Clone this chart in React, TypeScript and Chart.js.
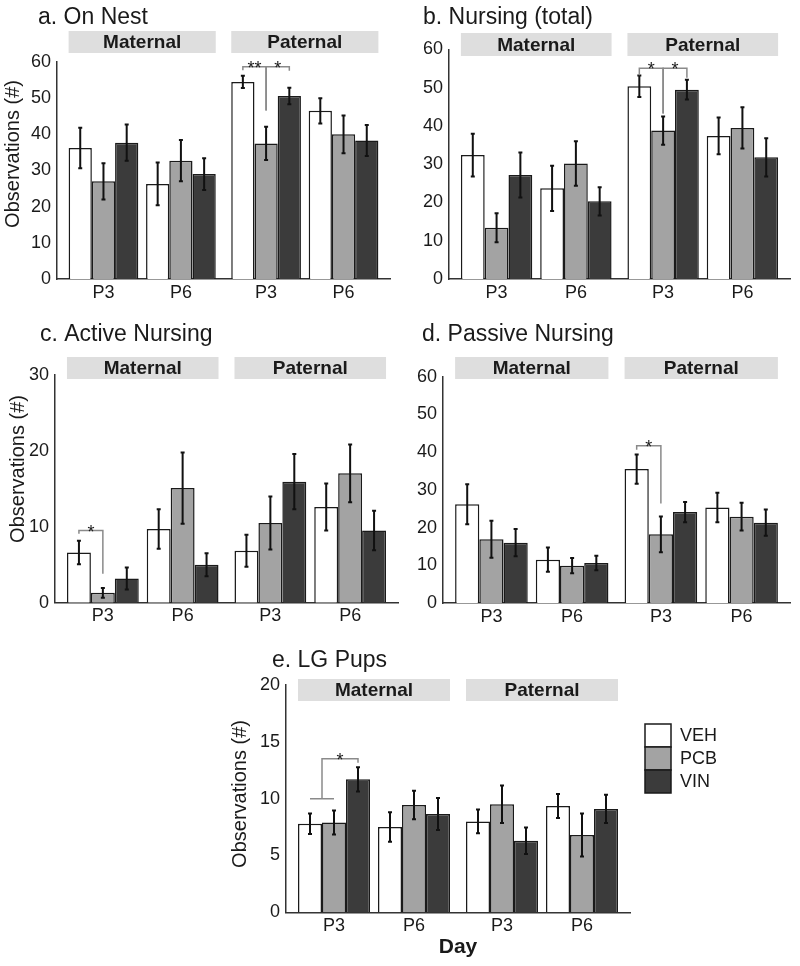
import React, { useEffect, useRef } from "react";
import { Chart, registerables } from "chart.js";

Chart.register(...registerables);

const FONT = "'Liberation Sans', Arial, Helvetica, sans-serif";
const INK = "#1a1a1a";

const SERIES = ["VEH", "PCB", "VIN"];
const SERIES_COLORS = ["#ffffff", "#a3a3a3", "#3b3b3b"];
const FACETS = ["Maternal", "Paternal"];
const DAY_LABELS = ["P3", "P6", "P3", "P6"];
const X_POS = [1, 2, 3.1, 4.1];

// a. On Nest
const nestVEH = [36.2, 26.3, 54.5, 46.5];
const nestPCB = [27.0, 32.7, 37.5, 40.0];
const nestVIN = [37.7, 29.0, 50.6, 38.3];
const nestVEHErr = [5.6, 5.9, 1.7, 3.5];
const nestPCBErr = [5.0, 5.7, 4.6, 5.2];
const nestVINErr = [5.0, 4.4, 2.3, 4.3];

// b. Nursing (total)
const nursVEH = [32.4, 23.7, 50.4, 37.4];
const nursPCB = [13.4, 30.2, 38.8, 39.5];
const nursVIN = [27.2, 20.3, 49.5, 31.8];
const nursVEHErr = [5.6, 5.9, 2.8, 4.8];
const nursPCBErr = [3.8, 5.8, 3.7, 5.4];
const nursVINErr = [5.9, 3.7, 2.6, 5.0];

// c. Active Nursing
const actVEH = [6.6, 9.7, 6.85, 12.6];
const actPCB = [1.3, 15.1, 10.5, 17.05];
const actVIN = [3.2, 5.0, 15.95, 9.5];
const actVEHErr = [1.55, 2.6, 2.1, 3.1];
const actPCBErr = [0.65, 4.7, 3.5, 3.8];
const actVINErr = [1.45, 1.5, 3.65, 2.6];

// d. Passive Nursing
const pasVEH = [26.2, 11.5, 35.5, 25.3];
const pasPCB = [16.9, 9.9, 18.2, 22.9];
const pasVIN = [16.0, 10.6, 24.1, 21.3];
const pasVEHErr = [5.3, 3.2, 3.85, 3.9];
const pasPCBErr = [4.9, 2.0, 4.75, 3.7];
const pasVINErr = [3.6, 1.9, 2.7, 3.5];

// e. LG Pups
const lgVEH = [7.8, 7.5, 8.0, 9.35];
const lgPCB = [7.9, 9.44, 9.5, 6.8];
const lgVIN = [11.7, 8.65, 6.3, 9.1];
const lgVEHErr = [0.9, 1.3, 1.05, 1.05];
const lgPCBErr = [1.05, 1.26, 1.65, 1.9];
const lgVINErr = [1.07, 1.4, 1.17, 1.25];

type Bracket = {
  group: number;
  from: number[];
  to: number;
  y: number;
  fromEnd: number;
  toEnd: number;
  label: string;
};

const nestBrackets: Bracket[] = [
  { group: 2, from: [0], to: 1, y: 58.7, fromEnd: 57.7, toEnd: 46.6, label: "**" },
  { group: 2, from: [1], to: 2, y: 58.7, fromEnd: 46.6, toEnd: 57.6, label: "*" },
];
const nursBrackets: Bracket[] = [
  { group: 2, from: [0], to: 1, y: 55.1, fromEnd: 53.3, toEnd: 43.3, label: "*" },
  { group: 2, from: [1], to: 2, y: 55.1, fromEnd: 43.3, toEnd: 52.6, label: "*" },
];
const actBrackets: Bracket[] = [
  { group: 0, from: [0], to: 1, y: 9.5, fromEnd: 9.1, toEnd: 3.8, label: "*" },
];
const pasBrackets: Bracket[] = [
  { group: 2, from: [0], to: 1, y: 41.7, fromEnd: 40.6, toEnd: 26.4, label: "*" },
];
const lgBrackets: Bracket[] = [
  { group: 0, from: [0, 1], to: 2, y: 13.5, fromEnd: 10.0, toEnd: 13.15, label: "*" },
];

type Panel = {
  key: string;
  left: number;
  top: number;
  w: number;
  h: number;
  area: { left: number; top: number; right: number; bottom: number };
  yMax: number;
  step: number;
  title: string;
  titleX: number;
  titleBase: number;
  yTitle?: { x: number; y: number };
  stripTop: number;
  stripH: number;
  values: number[][];
  errors: number[][];
  brackets: Bracket[];
  legend?: { x: number; y: number };
  xTitle?: { y: number };
};

const PANELS: Panel[] = [
  {
    key: "a", left: 0, top: 0, w: 400, h: 320,
    area: { left: 57, top: 62, right: 390, bottom: 279 },
    yMax: 60, step: 10, title: "a. On Nest", titleX: 38, titleBase: 24,
    yTitle: { x: 13, y: 154 }, stripTop: 31, stripH: 22,
    values: [nestVEH, nestPCB, nestVIN], errors: [nestVEHErr, nestPCBErr, nestVINErr],
    brackets: nestBrackets,
  },
  {
    key: "b", left: 400, top: 0, w: 400, h: 320,
    area: { left: 49, top: 49.5, right: 390, bottom: 279 },
    yMax: 60, step: 10, title: "b. Nursing (total)", titleX: 23, titleBase: 24,
    stripTop: 33, stripH: 23,
    values: [nursVEH, nursPCB, nursVIN], errors: [nursVEHErr, nursPCBErr, nursVINErr],
    brackets: nursBrackets,
  },
  {
    key: "c", left: 0, top: 320, w: 400, h: 320,
    area: { left: 55, top: 55, right: 398, bottom: 282.7 },
    yMax: 30, step: 10, title: "c. Active Nursing", titleX: 40, titleBase: 21,
    yTitle: { x: 18, y: 149 }, stripTop: 37, stripH: 22,
    values: [actVEH, actPCB, actVIN], errors: [actVEHErr, actPCBErr, actVINErr],
    brackets: actBrackets,
  },
  {
    key: "d", left: 400, top: 320, w: 400, h: 320,
    area: { left: 43, top: 56.7, right: 390, bottom: 283 },
    yMax: 60, step: 10, title: "d. Passive Nursing", titleX: 22, titleBase: 21,
    stripTop: 37, stripH: 22,
    values: [pasVEH, pasPCB, pasVIN], errors: [pasVEHErr, pasPCBErr, pasVINErr],
    brackets: pasBrackets,
  },
  {
    key: "e", left: 200, top: 640, w: 600, h: 326,
    area: { left: 86, top: 45, right: 430, bottom: 272.3 },
    yMax: 20, step: 5, title: "e. LG Pups", titleX: 72, titleBase: 27,
    yTitle: { x: 40, y: 154 }, stripTop: 39, stripH: 22,
    values: [lgVEH, lgPCB, lgVIN], errors: [lgVEHErr, lgPCBErr, lgVINErr],
    brackets: lgBrackets,
    legend: { x: 445, y: 84 },
    xTitle: { y: 307 },
  },
];

const decorPlugin = {
  id: "decor",
  afterDatasetsDraw(chart: any, _args: any, opts: any) {
    const ctx = chart.ctx;
    const ys = chart.scales.y;
    ctx.save();
    ctx.strokeStyle = "#111111";
    ctx.lineWidth = 2;
    (opts.errors as number[][]).forEach((errs, di) => {
      const meta = chart.getDatasetMeta(di);
      const vals = chart.data.datasets[di].data;
      meta.data.forEach((bar: any, j: number) => {
        const v = vals[j].y;
        const e = errs[j];
        const x = bar.x;
        const y1 = ys.getPixelForValue(v + e);
        const y2 = ys.getPixelForValue(v - e);
        ctx.beginPath();
        ctx.moveTo(x, y1);
        ctx.lineTo(x, y2);
        ctx.moveTo(x - 2, y1);
        ctx.lineTo(x + 2, y1);
        ctx.moveTo(x - 2, y2);
        ctx.lineTo(x + 2, y2);
        ctx.stroke();
      });
    });
    ctx.restore();
  },
  afterDraw(chart: any, _args: any, opts: any) {
    const ctx = chart.ctx;
    const ys = chart.scales.y;
    const area = chart.chartArea;
    const m0 = chart.getDatasetMeta(0);
    const mLast = chart.getDatasetMeta(chart.data.datasets.length - 1);
    ctx.save();

    // facet strips
    FACETS.forEach((name, f) => {
      const b0 = m0.data[f * 2];
      const b1 = mLast.data[f * 2 + 1];
      const x0 = b0.x - b0.width / 2;
      const x1 = b1.x + b1.width / 2;
      ctx.fillStyle = "#dedede";
      ctx.fillRect(x0, opts.stripTop, x1 - x0, opts.stripH);
      ctx.fillStyle = INK;
      ctx.font = `bold 19px ${FONT}`;
      ctx.textAlign = "center";
      ctx.textBaseline = "middle";
      ctx.fillText(name, (x0 + x1) / 2, opts.stripTop + opts.stripH / 2 + 1);
    });

    // panel title
    ctx.fillStyle = INK;
    ctx.font = `23px ${FONT}`;
    ctx.textAlign = "left";
    ctx.textBaseline = "alphabetic";
    ctx.fillText(opts.title, opts.titleX, opts.titleBase);

    // y title
    if (opts.yTitle) {
      ctx.save();
      ctx.translate(opts.yTitle.x, opts.yTitle.y);
      ctx.rotate(-Math.PI / 2);
      ctx.font = `20px ${FONT}`;
      ctx.textAlign = "center";
      ctx.textBaseline = "middle";
      ctx.fillText("Observations (#)", 0, 0);
      ctx.restore();
    }

    // x title
    if (opts.xTitle) {
      ctx.font = `bold 21px ${FONT}`;
      ctx.textAlign = "center";
      ctx.textBaseline = "middle";
      ctx.fillText("Day", (area.left + area.right) / 2, opts.xTitle.y);
    }

    // significance brackets
    (opts.brackets as Bracket[]).forEach((b) => {
      const fromXs = b.from.map((s) => chart.getDatasetMeta(s).data[b.group].x);
      const fx = fromXs.reduce((a, c) => a + c, 0) / fromXs.length;
      const tx = chart.getDatasetMeta(b.to).data[b.group].x;
      const yL = ys.getPixelForValue(b.y);
      const yF = ys.getPixelForValue(b.fromEnd);
      const yT = ys.getPixelForValue(b.toEnd);
      ctx.strokeStyle = "#8a8a8a";
      ctx.lineWidth = 1.5;
      ctx.beginPath();
      if (fromXs.length > 1) {
        ctx.moveTo(fromXs[0], yF);
        ctx.lineTo(fromXs[fromXs.length - 1], yF);
      }
      ctx.moveTo(fx, yF);
      ctx.lineTo(fx, yL);
      ctx.lineTo(tx, yL);
      ctx.lineTo(tx, yT);
      ctx.stroke();
      ctx.fillStyle = INK;
      ctx.font = `18px ${FONT}`;
      ctx.textAlign = "center";
      ctx.textBaseline = "alphabetic";
      ctx.fillText(b.label, (fx + tx) / 2, yL + 7);
    });

    // legend
    if (opts.legend) {
      const bw = 26;
      const bh = 23;
      SERIES.forEach((s, i) => {
        const y = opts.legend.y + i * bh;
        ctx.fillStyle = SERIES_COLORS[i];
        ctx.fillRect(opts.legend.x, y, bw, bh);
        ctx.strokeStyle = INK;
        ctx.lineWidth = 1.5;
        ctx.strokeRect(opts.legend.x, y, bw, bh);
        ctx.fillStyle = INK;
        ctx.font = `18px ${FONT}`;
        ctx.textAlign = "left";
        ctx.textBaseline = "middle";
        ctx.fillText(s, opts.legend.x + bw + 9, y + bh / 2 + 1);
      });
    }
    ctx.restore();
  },
};

function PanelChart({ p }: { p: Panel }) {
  const ref = useRef<HTMLCanvasElement | null>(null);
  useEffect(() => {
    if (!ref.current) return;
    const tickFont = { family: FONT, size: 18 };
    const chart = new Chart(ref.current, {
      type: "bar",
      data: {
        datasets: SERIES.map((s, i) => ({
          label: s,
          data: X_POS.map((x, j) => ({ x, y: p.values[i][j] })),
          backgroundColor: SERIES_COLORS[i],
          borderColor: INK,
          borderWidth: 1.5,
          categoryPercentage: 0.9,
          barPercentage: 1,
        })),
      } as any,
      options: {
        animation: false,
        responsive: false,
        devicePixelRatio: 1,
        layout: { padding: { left: 0, top: p.area.top, right: p.w - p.area.right, bottom: 0 } },
        plugins: {
          legend: { display: false },
          tooltip: { enabled: false },
          decor: {
            title: p.title,
            titleX: p.titleX,
            titleBase: p.titleBase,
            yTitle: p.yTitle,
            stripTop: p.stripTop,
            stripH: p.stripH,
            errors: p.errors,
            brackets: p.brackets,
            legend: p.legend,
            xTitle: p.xTitle,
          },
        } as any,
        scales: {
          x: {
            type: "linear",
            min: 0.4,
            max: 4.7,
            offset: false,
            afterBuildTicks: (s: any) => {
              s.ticks = X_POS.map((v) => ({ value: v }));
            },
            afterFit: (s: any) => {
              s.height = p.h - p.area.bottom;
            },
            ticks: {
              callback: (_v: any, i: number) => DAY_LABELS[i],
              font: tickFont,
              color: INK,
              padding: 3,
              autoSkip: false,
              maxRotation: 0,
            },
            grid: { display: false, drawTicks: false, offset: false },
            border: { display: true, color: "#333333", width: 1.5 },
          },
          y: {
            min: 0,
            max: p.yMax,
            afterFit: (s: any) => {
              s.width = p.area.left;
            },
            ticks: { stepSize: p.step, font: tickFont, color: INK, padding: 6 },
            grid: { display: false, drawTicks: false },
            border: { display: true, color: "#333333", width: 1.5 },
          },
        } as any,
      },
      plugins: [decorPlugin as any],
    });
    return () => chart.destroy();
  }, [p]);
  return (
    <canvas
      ref={ref}
      width={p.w}
      height={p.h}
      style={{ position: "absolute", left: p.left, top: p.top, width: p.w, height: p.h }}
    />
  );
}

export default function App() {
  return (
    <div
      style={{
        position: "absolute",
        left: 0,
        top: 0,
        width: 800,
        height: 966,
        background: "#ffffff",
        overflow: "hidden",
      }}
    >
      {PANELS.map((p) => (
        <PanelChart key={p.key} p={p} />
      ))}
    </div>
  );
}
